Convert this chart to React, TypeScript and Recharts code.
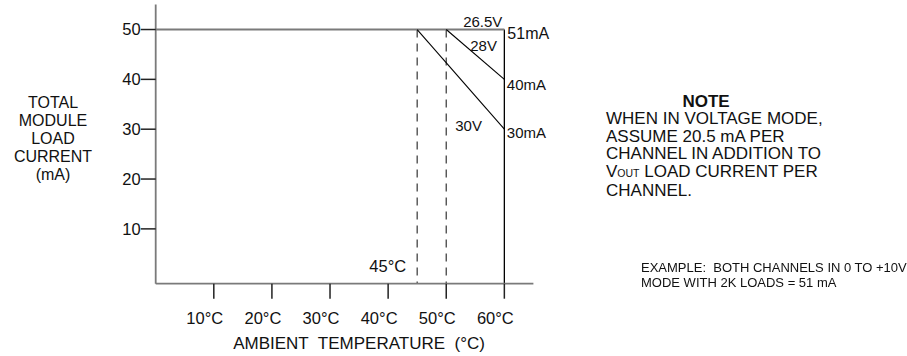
import React from 'react';
import {
  LineChart,
  Line,
  XAxis,
  YAxis,
  ReferenceLine,
  ReferenceDot,
} from 'recharts';

// ambient temperature (°C) on x, total module load current (mA) on y
const xTicks = [10, 20, 30, 40, 50, 60];
const yTicks = [10, 20, 30, 40, 50];
const xDomain = [0, 65];
const yDomain = [-1, 55];

const limit265V = [
  { t: 0, mA: 50 },
  { t: 60, mA: 50 },
];
const limit28V = [
  { t: 50, mA: 50 },
  { t: 60, mA: 40 },
];
const limit30V = [
  { t: 45, mA: 50 },
  { t: 60, mA: 30 },
];
const deratingStarts = [45, 50];
const maxTemp = 60;

const curveNames = ['26.5V', '28V', '30V'];
const currentLabels = ['51mA', '40mA', '30mA'];
const startLabel = '45°C';

const yTitle = ['TOTAL', 'MODULE', 'LOAD', 'CURRENT', '(mA)'];
const xTitle = 'AMBIENT\u00a0 TEMPERATURE\u00a0 (°C)';

const FONT = '"Liberation Sans", Arial, Helvetica, sans-serif';
const AXIS = '#7a7a7a';
const INK = '#111';

const textAt = (text: string, dx: number, dy: number, anchor = 'start', size = 15) =>
  (props: any) => {
    const vb = props.viewBox || {};
    return (
      <text
        x={(vb.x ?? 0) + dx}
        y={(vb.y ?? 0) + dy}
        textAnchor={anchor}
        fontSize={size}
        fill={INK}
        fontFamily={FONT}
      >
        {text}
      </text>
    );
  };

// tick labels sit a little left of their tick marks in the original
const TempTick = (props: any) => {
  const { x, y, payload } = props;
  return (
    <text
      x={x - 9}
      y={y}
      dy="0.71em"
      textAnchor="middle"
      fontSize={16.5}
      fill={INK}
      fontFamily={FONT}
    >
      {`${payload.value}°C`}
    </text>
  );
};

const dotProps = { r: 0, fill: 'none', stroke: 'none' };

export default function App() {
  return (
    <div
      style={{
        position: 'fixed',
        left: 0,
        top: 0,
        width: 907,
        height: 356,
        background: '#fff',
        fontFamily: FONT,
        color: INK,
      }}
    >
      <LineChart
        width={907}
        height={356}
        margin={{ top: 4.6, right: 373.6, bottom: 12.3, left: 95.7 }}
      >
        <XAxis
          type="number"
          dataKey="t"
          domain={xDomain}
          ticks={xTicks}
          allowDataOverflow
          tickSize={15}
          tickMargin={14}
          height={60}
          tick={<TempTick />}
          tickLine={{ stroke: '#222', strokeWidth: 1.5 }}
          axisLine={{ stroke: AXIS, strokeWidth: 1.8 }}
        />
        <YAxis
          type="number"
          dataKey="mA"
          domain={yDomain}
          ticks={yTicks}
          allowDataOverflow
          tickSize={15}
          tickMargin={0}
          width={60}
          tick={{ fontSize: 16.5, fill: INK, fontFamily: FONT }}
          tickLine={{ stroke: '#222', strokeWidth: 1.5 }}
          axisLine={{ stroke: AXIS, strokeWidth: 1.8 }}
        />
        {deratingStarts.map((t) => (
          <ReferenceLine
            key={t}
            segment={[
              { x: t, y: 50 },
              { x: t, y: yDomain[0] },
            ]}
            stroke="#444"
            strokeWidth={1.3}
            strokeDasharray="8 6"
          />
        ))}
        <ReferenceLine
          segment={[
            { x: maxTemp, y: 50 },
            { x: maxTemp, y: yDomain[0] },
          ]}
          stroke="#000"
          strokeWidth={1.3}
        />
        <Line
          data={limit265V}
          dataKey="mA"
          stroke={AXIS}
          strokeWidth={1.8}
          dot={false}
          isAnimationActive={false}
        />
        <Line
          data={limit28V}
          dataKey="mA"
          stroke="#000"
          strokeWidth={1.1}
          dot={false}
          isAnimationActive={false}
        />
        <Line
          data={limit30V}
          dataKey="mA"
          stroke="#000"
          strokeWidth={1.1}
          dot={false}
          isAnimationActive={false}
        />
        <ReferenceDot x={60} y={50} {...dotProps} label={textAt(curveNames[0], -2, -3, 'end')} />
        <ReferenceDot x={60} y={50} {...dotProps} label={textAt(currentLabels[0], 3, 9.5, 'start', 16)} />
        <ReferenceDot x={50} y={50} {...dotProps} label={textAt(curveNames[1], 24, 21.5)} />
        <ReferenceDot x={60} y={40} {...dotProps} label={textAt(currentLabels[1], 2.5, 10.6)} />
        <ReferenceDot x={50} y={30} {...dotProps} label={textAt(curveNames[2], 9, 2.3)} />
        <ReferenceDot x={60} y={30} {...dotProps} label={textAt(currentLabels[2], 2.5, 9.3)} />
        <ReferenceDot x={45} y={0} {...dotProps} label={textAt(startLabel, -11, -7.2, 'end', 16.5)} />
      </LineChart>

      <div
        style={{
          position: 'absolute',
          left: 0,
          width: 106,
          top: 93.5,
          textAlign: 'center',
          fontSize: 16,
          lineHeight: '18.2px',
        }}
      >
        {yTitle.map((s) => (
          <div key={s}>{s}</div>
        ))}
      </div>

      <div
        style={{
          position: 'absolute',
          left: 200,
          width: 318,
          top: 335,
          textAlign: 'center',
          fontSize: 17,
          lineHeight: '18px',
          whiteSpace: 'pre',
        }}
      >
        {xTitle}
      </div>

      <div
        style={{
          position: 'absolute',
          left: 606,
          top: 92.7,
          fontSize: 17,
          lineHeight: '17.5px',
        }}
      >
        <div style={{ fontWeight: 'bold', width: 200, textAlign: 'center' }}>NOTE</div>
        <div>WHEN IN VOLTAGE MODE,</div>
        <div>ASSUME 20.5 mA PER</div>
        <div>CHANNEL IN ADDITION TO</div>
        <div>
          V<span style={{ fontSize: 10.5 }}>OUT</span> LOAD CURRENT PER
        </div>
        <div>CHANNEL.</div>
      </div>

      <div
        style={{
          position: 'absolute',
          left: 641,
          top: 259.7,
          fontSize: 13,
          lineHeight: '15px',
          whiteSpace: 'pre',
        }}
      >
        <div>EXAMPLE:  BOTH CHANNELS IN 0 TO +10V</div>
        <div>MODE WITH 2K LOADS = 51 mA</div>
      </div>
    </div>
  );
}
